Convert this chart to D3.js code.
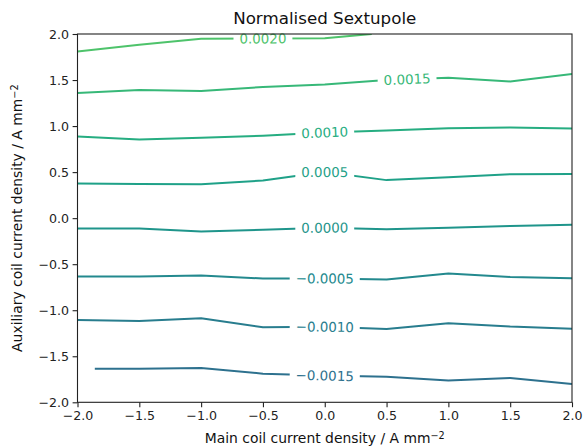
<!DOCTYPE html>
<html>
<head>
<meta charset="utf-8">
<script src="https://cdn.jsdelivr.net/npm/d3@7"></script>
<style>
  body { margin: 0; background: #fff; }
  text { font-family: "DejaVu Sans", sans-serif; }
</style>
</head>
<body>
<script>
'use strict';

// contour levels and the points where each contour line runs
var levels = [-0.0015, -0.0010, -0.0005, 0.0000, 0.0005, 0.0010, 0.0015, 0.0020];

var cM0015 = [[-1.86, -1.635], [-1.5, -1.635], [-1, -1.627], [-0.5, -1.689], [0, -1.71], [0.5, -1.722], [1, -1.762], [1.5, -1.736], [2, -1.80]];
var cM0010 = [[-2, -1.105], [-1.5, -1.116], [-1, -1.087], [-0.5, -1.185], [0, -1.18], [0.5, -1.203], [1, -1.141], [1.5, -1.178], [2, -1.20]];
var cM0005 = [[-2, -0.634], [-1.5, -0.634], [-1, -0.623], [-0.5, -0.656], [0, -0.655], [0.5, -0.667], [1, -0.601], [1.5, -0.638], [2, -0.652]];
var c0000  = [[-2, -0.113], [-1.5, -0.113], [-1, -0.145], [-0.5, -0.127], [0, -0.105], [0.5, -0.120], [1, -0.105], [1.5, -0.084], [2, -0.073]];
var c0005  = [[-2, 0.376], [-1.5, 0.372], [-1, 0.369], [-0.5, 0.409], [0, 0.500], [0.5, 0.413], [1, 0.445], [1.5, 0.478], [2, 0.480]];
var c0010  = [[-2, 0.887], [-1.5, 0.855], [-1, 0.873], [-0.5, 0.895], [0, 0.930], [0.5, 0.952], [1, 0.977], [1.5, 0.985], [2, 0.975]];
var c0015  = [[-2, 1.359], [-1.5, 1.393], [-1, 1.380], [-0.5, 1.424], [0, 1.452], [0.5, 1.500], [1, 1.525], [1.5, 1.485], [2, 1.565]];
var c0020  = [[-2, 1.811], [-1.5, 1.882], [-1, 1.948], [-0.5, 1.950], [0, 1.955], [0.38, 2.0]];

var contours = [cM0015, cM0010, cM0005, c0000, c0005, c0010, c0015, c0020];
// where along x each inline label sits
var labelX = [0, 0, 0, 0, 0, 0, 0.666, -0.5];

var xTicks = [-2, -1.5, -1, -0.5, 0, 0.5, 1, 1.5, 2];
var yTicks = [-2, -1.5, -1, -0.5, 0, 0.5, 1, 1.5, 2];

var W = 584, H = 448;
var pLeft = 77.5, pRight = 572, pTop = 34, pBottom = 402.3;

var x = d3.scaleLinear().domain([-2, 2]).range([pLeft, pRight]);
var y = d3.scaleLinear().domain([-2, 2]).range([pBottom, pTop]);
// colour taken from the middle part of viridis
var colour = d3.scaleSequential(d3.interpolateViridis).domain([-0.0052, 0.0048]);

var fmt = function(d) { return d3.format(".1f")(d).replace("-", "\u2212"); };
var fmtLevel = function(d) { return d3.format(".4f")(d).replace("-", "\u2212"); };

var svg = d3.select("body").append("svg")
    .attr("width", W)
    .attr("height", H);

var defs = svg.append("defs");
defs.append("clipPath").attr("id", "plotclip")
    .append("rect")
    .attr("x", pLeft).attr("y", pTop)
    .attr("width", pRight - pLeft).attr("height", pBottom - pTop);

var line = d3.line()
    .x(function(d) { return x(d[0]); })
    .y(function(d) { return y(d[1]); });

// y pixel on a polyline for a given x pixel
function yAt(pts, px) {
    for (var i = 0; i < pts.length - 1; i++) {
        var x0 = x(pts[i][0]), x1 = x(pts[i + 1][0]);
        if (px >= x0 && px <= x1) {
            var t = (px - x0) / (x1 - x0);
            return y(pts[i][1]) + t * (y(pts[i + 1][1]) - y(pts[i][1]));
        }
    }
    return px < x(pts[0][0]) ? y(pts[0][1]) : y(pts[pts.length - 1][1]);
}

var plot = svg.append("g").attr("clip-path", "url(#plotclip)");
var labels = svg.append("g");

contours.forEach(function(pts, i) {
    var c = colour(levels[i]);

    var lx = x(labelX[i]);
    var lab = labels.append("text")
        .attr("fill", c)
        .attr("font-size", "13.4px")
        .attr("text-anchor", "middle")
        .attr("dy", "0.36em")
        .text(fmtLevel(levels[i]));
    var w = lab.node().getComputedTextLength();
    var ly = yAt(pts, lx);
    var ang = Math.atan2(yAt(pts, lx + w / 2) - yAt(pts, lx - w / 2), w) * 180 / Math.PI;
    lab.attr("transform", "translate(" + lx + "," + ly + ") rotate(" + ang + ")");

    // cut the line where the label goes
    var mask = defs.append("mask").attr("id", "gap" + i)
        .attr("maskUnits", "userSpaceOnUse")
        .attr("x", 0).attr("y", 0).attr("width", W).attr("height", H);
    mask.append("rect").attr("width", W).attr("height", H).attr("fill", "#fff");
    mask.append("rect")
        .attr("x", -w / 2 - 6).attr("y", -9)
        .attr("width", w + 12).attr("height", 18)
        .attr("fill", "#000")
        .attr("transform", "translate(" + lx + "," + ly + ") rotate(" + ang + ")");

    plot.append("path")
        .datum(pts)
        .attr("d", line)
        .attr("fill", "none")
        .attr("stroke", c)
        .attr("stroke-width", 2)
        .attr("stroke-linejoin", "round")
        .attr("mask", "url(#gap" + i + ")");
});

// axes
var xAxis = svg.append("g")
    .attr("transform", "translate(0," + pBottom + ")")
    .call(d3.axisBottom(x).tickValues(xTicks).tickFormat(fmt).tickSize(4.9).tickPadding(3.5));
var yAxis = svg.append("g")
    .attr("transform", "translate(" + pLeft + ",0)")
    .call(d3.axisLeft(y).tickValues(yTicks).tickFormat(fmt).tickSize(4.9).tickPadding(3.5));

[xAxis, yAxis].forEach(function(a) {
    a.select(".domain").remove();
    a.selectAll("line").attr("stroke", "#222").attr("stroke-width", 1.1);
    a.selectAll("text")
        .attr("fill", "#222")
        .attr("font-size", "12.6px")
        .style("font-family", "DejaVu Sans, sans-serif");
});

svg.append("rect")
    .attr("x", pLeft).attr("y", pTop)
    .attr("width", pRight - pLeft).attr("height", pBottom - pTop)
    .attr("fill", "none")
    .attr("stroke", "#222")
    .attr("stroke-width", 1.1);

// title and axis labels
svg.append("text")
    .attr("x", (pLeft + pRight) / 2).attr("y", 24)
    .attr("text-anchor", "middle")
    .attr("font-size", "16.7px")
    .attr("fill", "#111")
    .text("Normalised Sextupole");

var xl = svg.append("text")
    .attr("x", (pLeft + pRight) / 2).attr("y", 443)
    .attr("text-anchor", "middle")
    .attr("font-size", "13.9px")
    .attr("fill", "#111");
xl.append("tspan").text("Main coil current density / A mm");
xl.append("tspan").attr("dy", "-0.45em").attr("font-size", "9.7px").text("\u22122");

var yl = svg.append("text")
    .attr("transform", "translate(22," + ((pTop + pBottom) / 2) + ") rotate(-90)")
    .attr("text-anchor", "middle")
    .attr("font-size", "13.9px")
    .attr("fill", "#111");
yl.append("tspan").text("Auxiliary coil current density / A mm");
yl.append("tspan").attr("dy", "-0.45em").attr("font-size", "9.7px").text("\u22122");
</script>
</body>
</html>
